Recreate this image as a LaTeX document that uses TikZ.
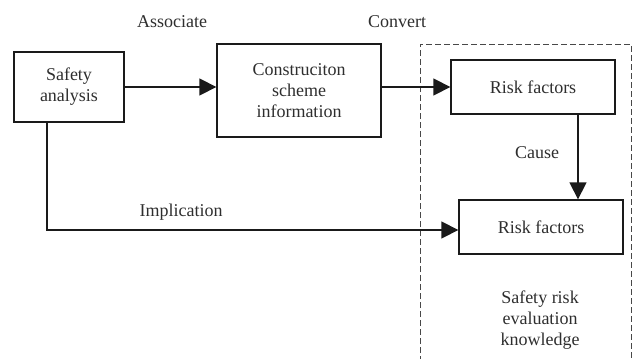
\documentclass[tikz,border=0pt]{standalone}
\usepackage{fontspec}
\setmainfont{Liberation Serif}
\usetikzlibrary{arrows.meta}
\definecolor{txt}{HTML}{2E2E2E}
\definecolor{ln}{HTML}{1A1A1A}
\begin{document}
\begin{tikzpicture}[x=1pt,y=-1pt,
  box/.style={draw=ln,line width=1.3pt,rectangle,inner sep=0pt,align=center,text=txt,
    font=\fontsize{18}{21}\selectfont},
  lbl/.style={text=txt,align=center,inner sep=0pt,font=\fontsize{18}{21}\selectfont},
  conn/.style={draw=ln,line width=1.3pt,-{Triangle[length=17pt,width=17pt]}},
  frame/.style={draw=ln!80,line width=1pt,dash pattern=on 6pt off 3pt}]
\useasboundingbox (0,0) rectangle (635,359);
\node[box,minimum width=110pt,minimum height=70pt] (safety) at (69,87) {Safety\\analysis};
\node[box,minimum width=164pt,minimum height=93pt] (constr) at (299,90.5) {Construciton\\scheme\\information};
\node[box,minimum width=164pt,minimum height=54pt] (risk1) at (533,87) {Risk factors};
\node[box,minimum width=164pt,minimum height=54pt] (risk2) at (541,227) {Risk factors};
\draw[frame] (420,362) -- (420,44) -- (631,44) -- (631,362);
\coordinate (cx) at (578,0);
\coordinate (ix) at (47,230);
\draw[conn] (safety.east) -- (constr.west |- safety.east);
\draw[conn] (constr.east |- risk1.west) -- (risk1.west);
\draw[conn] (risk1.south -| cx) -- (risk2.north -| cx);
\draw[conn] (safety.south -| ix) -- (ix) -- (risk2.west |- ix);
\node[lbl] (assoc) at (172,22) {Associate};
\node[lbl] (conv) at (397,22) {Convert};
\node[lbl] (cause) at (537,153) {Cause};
\node[lbl] (impl) at (181,212) {Implication};
\node[lbl] (know) at (540,320) {Safety risk\\evaluation\\knowledge};
\end{tikzpicture}
\end{document}
